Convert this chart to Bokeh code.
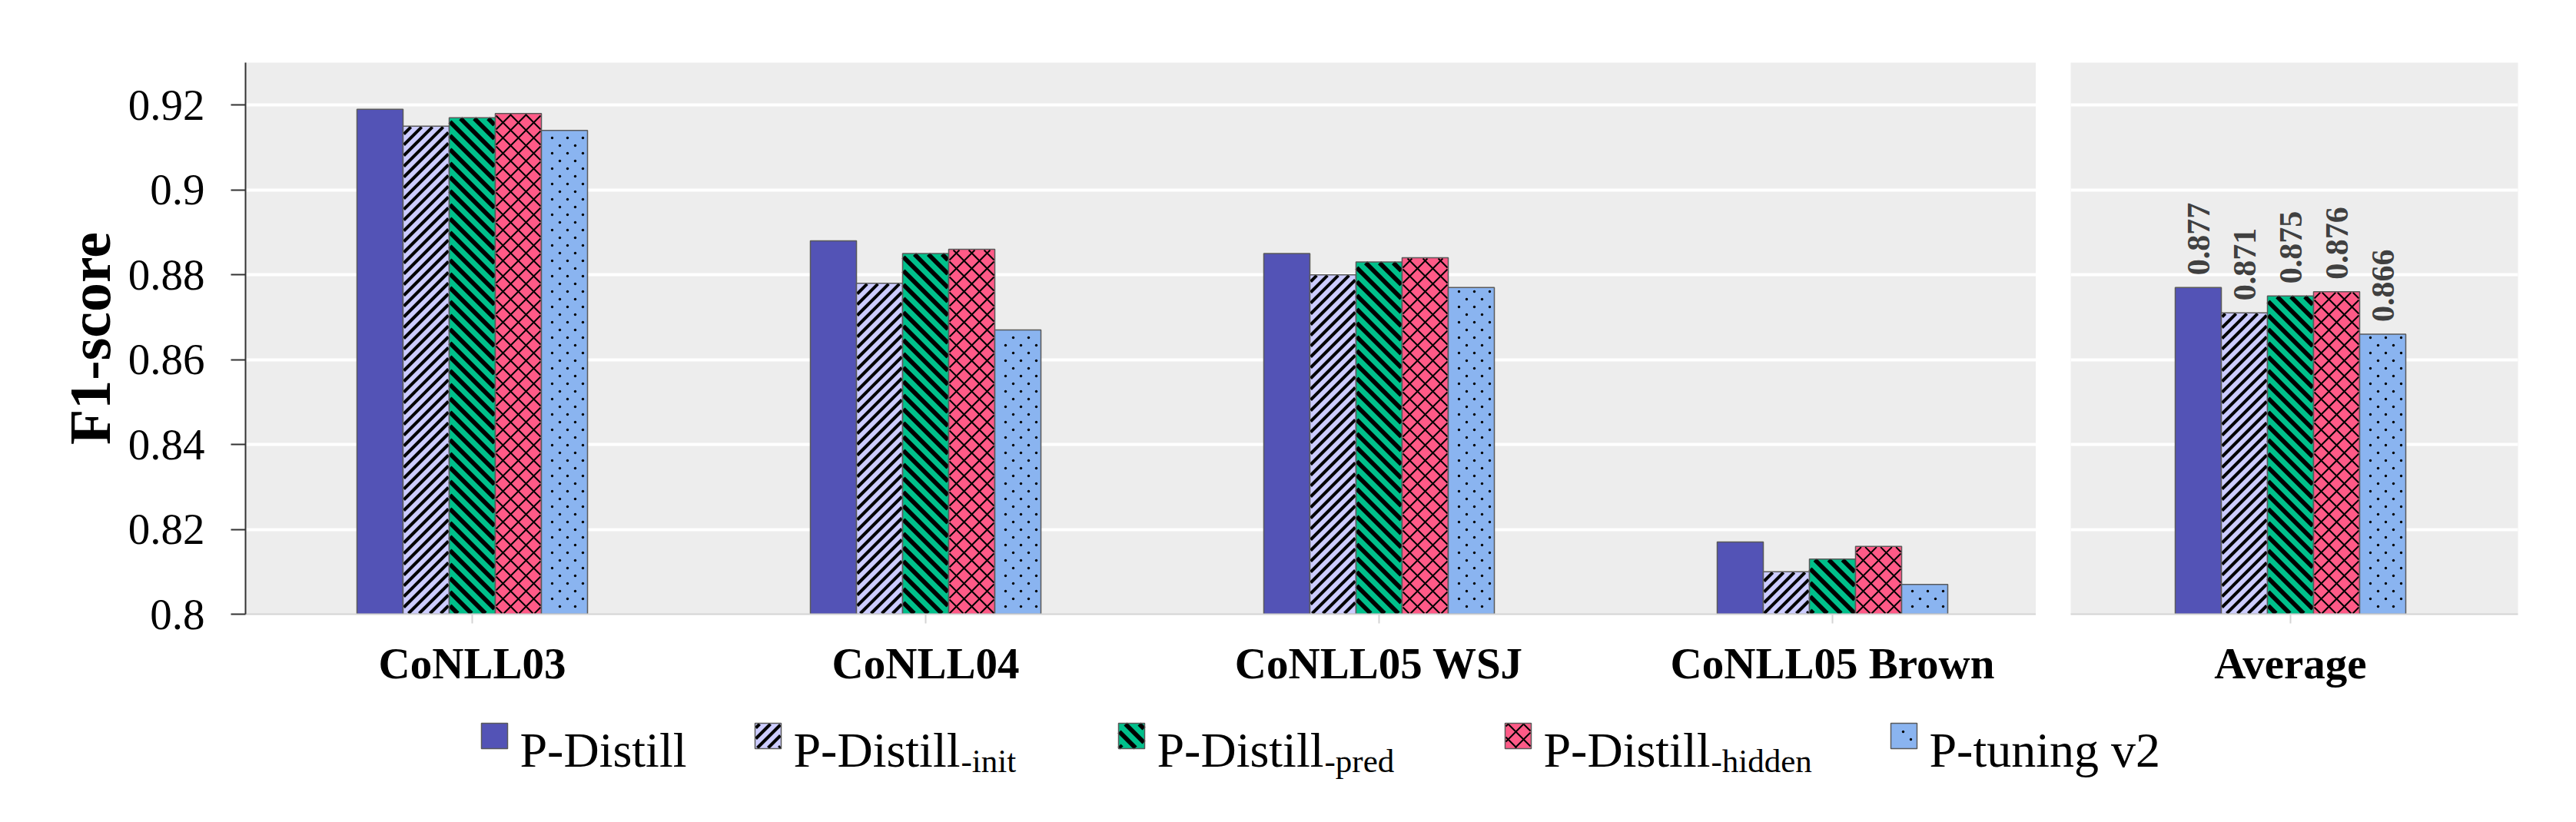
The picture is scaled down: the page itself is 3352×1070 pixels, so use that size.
import math
from bokeh.plotting import figure
from bokeh.models import Range1d, FixedTicker, ColumnDataSource
from bokeh.layouts import row, column
from bokeh.embed import file_html
from bokeh.resources import INLINE
from bokeh.core.properties import value
from bokeh.transform import dodge

# ---------------- data ----------------
categories = ["CoNLL03", "CoNLL04", "CoNLL05 WSJ", "CoNLL05 Brown"]
avg_category = ["Average"]
series_keys = ["p_distill", "p_distill_init", "p_distill_pred", "p_distill_hidden", "p_tuning_v2"]
legend_main = ["P-Distill", "P-Distill", "P-Distill", "P-Distill", "P-tuning v2"]
legend_sub = ["", "-init", "-pred", "-hidden", ""]

p_distill = [0.919, 0.888, 0.885, 0.817]
p_distill_init = [0.915, 0.878, 0.880, 0.810]
p_distill_pred = [0.917, 0.885, 0.883, 0.813]
p_distill_hidden = [0.918, 0.886, 0.884, 0.816]
p_tuning_v2 = [0.914, 0.867, 0.877, 0.807]

avg_values = [0.877, 0.871, 0.875, 0.876, 0.866]
avg_labels = ["0.877", "0.871", "0.875", "0.876", "0.866"]

y_ticks = [0.80, 0.82, 0.84, 0.86, 0.88, 0.90, 0.92]
y_tick_labels = ["0.8", "0.82", "0.84", "0.86", "0.88", "0.9", "0.92"]
y_min, y_max = 0.80, 0.93

# ---------------- styles / layout ----------------
colors = ["#5353B6", "#CCCCFF", "#00C08B", "#FF5A87", "#8AB4F0"]
hatch_kind = [None, "rdiag", "ldiag", "cross", "dots"]
hatch_period = {"rdiag": 14.0, "ldiag": 18.0, "cross": 20.0, "dots": 10.0}
hatch_lw = {"rdiag": 4.0, "ldiag": 5.8, "cross": 2.0}
dot_size = 3.4
outline = "#5a5a5a"
SERIF = "Liberation Serif"

PX_PER_CAT = 590.0
BAR_PX = 60.0
FRAME_H = 718.0
PX_PER_Y = FRAME_H / (y_max - y_min)
bar_w = BAR_PX / PX_PER_CAT
offsets = [(i - 2) * bar_w for i in range(5)]

main_vals = [p_distill, p_distill_init, p_distill_pred, p_distill_hidden, p_tuning_v2]


def diag_lines(u0, u1, v0, v1, period, sign):
    """45-degree lines v = sign*u + c clipped to a pixel-space rectangle."""
    segs = []
    if sign > 0:
        cmin, cmax = v0 - u1, v1 - u0
    else:
        cmin, cmax = v0 + u0, v1 + u1
    for k in range(math.ceil(cmin / period), math.floor(cmax / period) + 1):
        c = k * period
        if sign > 0:
            lo, hi = max(u0, v0 - c), min(u1, v1 - c)
            if hi - lo > 0.3:
                segs.append((lo, lo + c, hi, hi + c))
        else:
            lo, hi = max(u0, c - v1), min(u1, c - v0)
            if hi - lo > 0.3:
                segs.append((lo, c - lo, hi, c - hi))
    return segs


def hatch_marks(kind, u0, u1, v0, v1):
    """Return (segments, dots) in pixel space for a pattern inside a rectangle."""
    inset = 1.0
    u0, u1, v0, v1 = u0 + inset, u1 - inset, v0 + inset, v1 - inset
    segs, dots = [], []
    if kind is None or u1 <= u0 or v1 <= v0:
        return segs, dots
    P = hatch_period[kind]
    if kind == "rdiag":
        segs = diag_lines(u0, u1, v0, v1, P, +1)
    elif kind == "ldiag":
        segs = diag_lines(u0, u1, v0, v1, P, -1)
    elif kind == "cross":
        segs = diag_lines(u0, u1, v0, v1, P, +1) + diag_lines(u0, u1, v0, v1, P, -1)
    elif kind == "dots":
        for i in range(math.ceil((u0 + 1.5) / P), math.floor((u1 - 1.5) / P) + 1):
            for j in range(math.ceil((v0 + 1.5) / P), math.floor((v1 - 1.5) / P) + 1):
                if (i + j) % 2 == 0:
                    dots.append((i * P + 4, j * P))
    return segs, dots


def draw_hatch(fig, kind, rects, to_x, to_y, from_x, from_y):
    sx0, sy0, sx1, sy1, dx, dy = [], [], [], [], [], []
    for (x0, x1, y0, y1) in rects:
        ua, ub = sorted((from_x(x0), from_x(x1)))
        va, vb = sorted((from_y(y0), from_y(y1)))
        segs, dots = hatch_marks(kind, ua, ub, va, vb)
        for (a, b, c, d) in segs:
            sx0.append(to_x(a)); sy0.append(to_y(b)); sx1.append(to_x(c)); sy1.append(to_y(d))
        for (a, b) in dots:
            dx.append(to_x(a)); dy.append(to_y(b))
    if sx0:
        fig.segment(x0=sx0, y0=sy0, x1=sx1, y1=sy1, line_color="black",
                    line_width=hatch_lw[kind], line_cap="butt")
    if dx:
        fig.scatter(x=dx, y=dy, size=dot_size, marker="circle", fill_color="black", line_color=None)


# data <-> pixel conversions for the bar panels
bx_px = lambda x: x * PX_PER_CAT
by_px = lambda y: (y - y_min) * PX_PER_Y
px_bx = lambda u: u / PX_PER_CAT
px_by = lambda v: y_min + v / PX_PER_Y


def draw_bars(fig, src, xs, vals_by_series):
    for i, key in enumerate(series_keys):
        fig.vbar(x=dodge("x", offsets[i]), top=key, bottom=y_min, width=bar_w, source=src,
                 fill_color=colors[i], line_color=None)
        rects = [(x + offsets[i] - bar_w / 2, x + offsets[i] + bar_w / 2, y_min, v)
                 for x, v in zip(xs, vals_by_series[i])]
        draw_hatch(fig, hatch_kind[i], rects, px_bx, px_by, bx_px, by_px)
        fig.vbar(x=dodge("x", offsets[i]), top=key, bottom=y_min, width=bar_w, source=src,
                 fill_color=None, line_color=outline, line_width=1.5)


# ---------------- main panel ----------------
main_frame_w = 2330
main_x = list(range(len(categories)))
main_src = ColumnDataSource(dict(x=main_x, **{k: v for k, v in zip(series_keys, main_vals)}))

p = figure(width=2649, height=912,
           x_range=Range1d(-0.5, -0.5 + main_frame_w / PX_PER_CAT),
           y_range=Range1d(y_min, y_max),
           output_backend="svg", toolbar_location=None,
           min_border_left=319, min_border_right=0, min_border_top=81, min_border_bottom=113)
draw_bars(p, main_src, main_x, main_vals)

# ---------------- average panel ----------------
avg_frame_w = 582
avg_center_px = 286  # from frame left
avg_start = -avg_center_px / PX_PER_CAT
avg_x = [0]
avg_src = ColumnDataSource(dict(x=avg_x, **{k: [v] for k, v in zip(series_keys, avg_values)},
                                **{k + "_lbl": [l] for k, l in zip(series_keys, avg_labels)}))

p2 = figure(width=687, height=912,
            x_range=Range1d(avg_start, avg_start + avg_frame_w / PX_PER_CAT),
            y_range=Range1d(y_min, y_max), y_axis_location=None,
            output_backend="svg", toolbar_location=None,
            min_border_left=45, min_border_right=60, min_border_top=81, min_border_bottom=113)
draw_bars(p2, avg_src, avg_x, [[v] for v in avg_values])

for i, key in enumerate(series_keys):
    p2.text(x=dodge("x", offsets[i]), y=key, text=key + "_lbl", source=avg_src,
            angle=math.pi / 2, text_align="left", text_baseline="middle", y_offset=-16,
            text_font=value(SERIF), text_font_style="bold", text_font_size="42px",
            text_color="#404040")

# ---------------- common styling ----------------
for fig, ticks, labels in ((p, main_x, categories), (p2, avg_x, avg_category)):
    fig.background_fill_color = "#EDEDED"
    fig.border_fill_color = "white"
    fig.outline_line_color = None
    fig.xgrid.visible = False
    fig.ygrid.ticker = FixedTicker(ticks=y_ticks)
    fig.ygrid.grid_line_color = "white"
    fig.ygrid.grid_line_width = 4
    xa = fig.xaxis[0]
    xa.ticker = FixedTicker(ticks=ticks)
    xa.major_label_overrides = {t: l for t, l in zip(ticks, labels)}
    xa.minor_tick_line_color = None
    xa.axis_line_color = "#d4d4d4"
    xa.axis_line_width = 2
    xa.major_tick_line_color = "#d4d4d4"
    xa.major_tick_line_width = 2
    xa.major_tick_out = 12
    xa.major_tick_in = 0
    xa.major_label_text_font = SERIF
    xa.major_label_text_font_style = "bold"
    xa.major_label_text_font_size = "57px"
    xa.major_label_text_color = "black"
    xa.major_label_standoff = 20

ya = p.yaxis[0]
ya.ticker = FixedTicker(ticks=y_ticks)
ya.major_label_overrides = {t: l for t, l in zip(y_ticks, y_tick_labels)}
ya.minor_tick_line_color = None
ya.axis_line_color = "#333333"
ya.axis_line_width = 2
ya.major_tick_line_color = "#333333"
ya.major_tick_line_width = 2
ya.major_tick_out = 19
ya.major_tick_in = 0
ya.major_label_text_font = SERIF
ya.major_label_text_font_size = "57px"
ya.major_label_text_color = "black"
ya.major_label_standoff = 34
ya.axis_label = "F1-score"
ya.axis_label_text_font = SERIF
ya.axis_label_text_font_style = "bold"
ya.axis_label_text_font_size = "76px"
ya.axis_label_text_color = "black"
ya.axis_label_standoff = 5

# ---------------- legend ----------------
leg_top, leg_bottom = 920, 1062
p3 = figure(width=3336, height=leg_bottom - leg_top,
            x_range=Range1d(8, 3344), y_range=Range1d(leg_bottom, leg_top),
            x_axis_location=None, y_axis_location=None,
            output_backend="svg", toolbar_location=None, min_border=0)
p3.outline_line_color = None
p3.grid.visible = False
p3.background_fill_color = "white"
p3.border_fill_color = "white"

legend_text_x = [684, 1040, 1513, 2016, 2518]
sub_dx = 218
sq_w, sq_h, sq_cy = 34, 33, 965.5
ident = lambda t: t
neg = lambda t: -t
for i in range(5):
    tx = legend_text_x[i]
    cx = tx - 33
    p3.rect(x=[cx], y=[sq_cy], width=sq_w, height=sq_h, fill_color=colors[i], line_color=None)
    draw_hatch(p3, hatch_kind[i],
               [(cx - sq_w / 2, cx + sq_w / 2, sq_cy - sq_h / 2, sq_cy + sq_h / 2)],
               ident, neg, ident, neg)
    p3.rect(x=[cx], y=[sq_cy], width=sq_w, height=sq_h, fill_color=None,
            line_color=outline, line_width=1.5)
    p3.text(x=[tx], y=[984], text=[legend_main[i]], text_align="left",
            text_baseline="alphabetic", text_font=value(SERIF), text_font_size="64px",
            text_color="black")
    if legend_sub[i]:
        p3.text(x=[tx + sub_dx], y=[998], text=[legend_sub[i]], text_align="left",
                text_baseline="alphabetic", text_font=value(SERIF), text_font_size="43px",
                text_color="black")

layout = column(row(p, p2), p3)
open("out.html", "w").write(file_html(layout, INLINE))
